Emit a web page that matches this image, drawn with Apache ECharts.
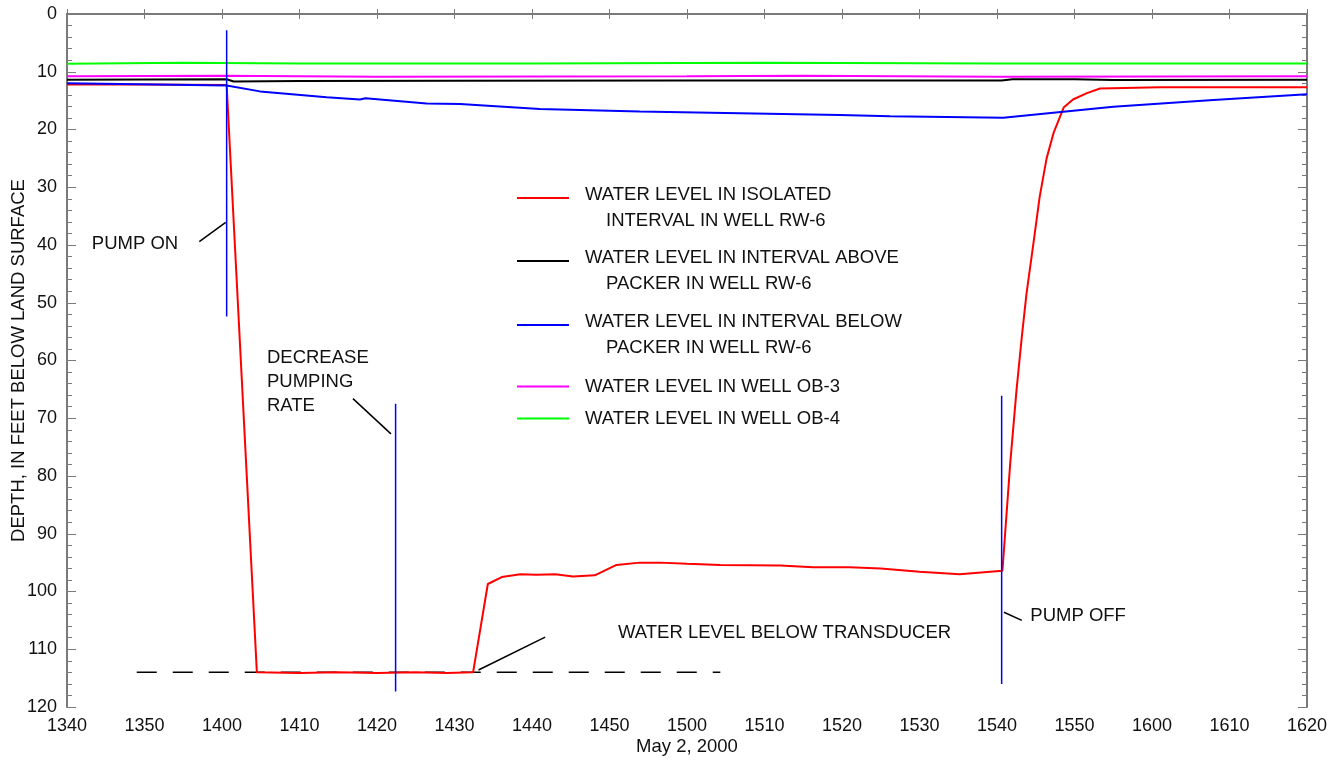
<!DOCTYPE html>
<html>
<head>
<meta charset="utf-8">
<script src="https://cdn.jsdelivr.net/npm/echarts@6/dist/echarts.min.js"></script>
<style>
html,body{margin:0;padding:0;background:#fff;}
#chart{width:1341px;height:761px;}
</style>
</head>
<body>
<div id="chart"></div>
<script>
// Time is in minutes after midnight on May 2, 2000 (820 = 13:40, 980 = 16:20)
const xTickRange = [820, 980];
const yTickRange = [0, 120];

const seriesNames = [
  'WATER LEVEL IN ISOLATED\nINTERVAL IN WELL RW-6',
  'WATER LEVEL IN INTERVAL ABOVE\nPACKER IN WELL RW-6',
  'WATER LEVEL IN INTERVAL BELOW\nPACKER IN WELL RW-6',
  'WATER LEVEL IN WELL OB-3',
  'WATER LEVEL IN WELL OB-4'
];
const seriesColors = ['#ff0000', '#000000', '#0000ff', '#ff00ff', '#00ff00'];

const isolatedRW6 = [
  [820,12.2],[830,12.2],[840.6,12.3],[844.5,114.0],[850,114.1],[855,114.0],[860,114.1],
  [865,114.0],[869,114.1],[872.4,114.0],[874.3,98.7],[876.1,97.5],[878.5,97.0],[880.6,97.1],
  [883,97.0],[885.3,97.4],[888.1,97.2],[890.9,95.4],[893.9,95.0],[896.5,95.0],[900,95.2],
  [904.3,95.4],[912,95.5],[916.3,95.8],[921,95.8],[925,96.0],[930,96.6],[935.2,97.0],
  [940.7,96.4],[941.7,77.9],[942.5,65.4],[943.2,55.9],[943.8,48.5],[944.7,39.7],[945.5,31.7],
  [946.4,25.0],[947.3,20.6],[948.6,16.2],[949.8,14.8],[951.6,13.7],[953.3,12.9],[961,12.7],[980,12.7]
];
const abovePackerRW6 = [
  [820,11.4],[830,11.35],[840.6,11.3],[841.5,11.7],[850,11.6],[870,11.55],[900,11.5],
  [940.6,11.5],[942,11.3],[950,11.3],[955,11.45],[980,11.4]
];
const belowPackerRW6 = [
  [820,12.0],[840.6,12.4],[844.9,13.4],[853.5,14.4],[857.8,14.8],[858.5,14.6],[866.4,15.5],
  [870.7,15.6],[881.0,16.45],[893.9,16.9],[906.8,17.2],[919.7,17.5],[926.2,17.7],
  [940.8,17.95],[955.0,16.05],[967.9,14.9],[980,13.9]
];
const wellOB3 = [
  [820,10.8],[840,10.7],[860,10.85],[900,10.8],[915,10.7],[940,10.85],[980,10.8]
];
const wellOB4 = [
  [820,8.6],[835,8.45],[850,8.55],[880,8.55],[910,8.45],[940,8.55],[980,8.55]
];

// Annotation marks
const pumpOnLine = [[840.6,2.8],[840.6,52.4]];
const decreaseLine = [[862.4,67.5],[862.4,117.3]];
const pumpOffLine = [[940.6,66.1],[940.6,116.0]];
const pumpOnLeader = [[837.07,39.4],[840.48,36.1]];
const decreaseLeader = [[856.9,66.6],[861.8,72.7]];
const pumpOffLeader = [[940.9,103.6],[943.2,105.0]];
const transducerLeader = [[873.1,113.6],[881.7,107.9]];
const transducerLevel = [[829.0,114.0],[904.3,114.0]];

const noteTexts = ['PUMP ON', 'DECREASE\nPUMPING\nRATE', 'PUMP OFF', 'WATER LEVEL BELOW TRANSDUCER'];
const notePoints = [[823.2,39.8],[845.8,63.7],[944.3,104.2],[891.1,107.2]];

function hhmm(v){
  const h = Math.floor(v/60), m = Math.round(v - h*60);
  return String(h*100 + m);
}

const FONT = "'Liberation Sans', Arial, sans-serif";
const AXIS_COLOR = '#7a7a7a';
const TEXT_COLOR = '#111111';
const FS = 18.5;

const chart = echarts.init(document.getElementById('chart'), null, {renderer:'canvas'});

const dataSeries = [isolatedRW6, abovePackerRW6, belowPackerRW6, wellOB3, wellOB4].map((d, i) => ({
  name: seriesNames[i],
  type: 'line',
  data: d,
  symbol: 'none',
  silent: true,
  z: 3,
  itemStyle: {color: seriesColors[i]},
  lineStyle: {color: seriesColors[i], width: 2},
  animation: false
}));

function annoLine(data, color, width, type){
  return {
    type: 'line', data: data, symbol: 'none', silent: true, z: 4,
    lineStyle: {color: color, width: width, type: type || 'solid'},
    animation: false
  };
}

const annoSeries = [
  annoLine(pumpOnLine, '#0000ff', 1.5),
  annoLine(decreaseLine, '#0000ff', 1.5),
  annoLine(pumpOffLine, '#0000ff', 1.5),
  annoLine(pumpOnLeader, '#000', 1.5),
  annoLine(decreaseLeader, '#000', 1.5),
  annoLine(pumpOffLeader, '#000', 1.5),
  annoLine(transducerLeader, '#000', 1.5),
  Object.assign(annoLine(transducerLevel, '#000', 1.5, [20,16]), {z: 2})
];

const textSeries = {
  type: 'scatter',
  symbolSize: 0,
  silent: true,
  itemStyle: {color: '#000', opacity: 1},
  data: notePoints.map((p, i) => ({value: p, text: noteTexts[i]})),
  label: {
    show: true,
    position: 'right',
    distance: 0,
    align: 'left',
    verticalAlign: 'middle',
    formatter: (p) => p.data.text,
    fontFamily: FONT,
    fontSize: FS,
    lineHeight: 24,
    color: TEXT_COLOR,
    opacity: 1,
    textBorderWidth: 0
  },
  animation: false
};

// Legends: one per series for precise placement
const legendTops = [167, 230, 294, 377, 409];
const legends = seriesNames.map((n, i) => {
  const parts = n.split('\n');
  const fmt = parts.length > 1 ? ('{s| }\n{a|' + parts[0] + '}\n{b|' + parts[1] + '}') : ('{a|' + parts[0] + '}');
  return {
    data: [n],
    left: 517,
    top: legendTops[i],
    orient: 'vertical',
    icon: 'rect',
    itemWidth: 52,
    itemHeight: 2,
    padding: 0,
    selectedMode: false,
    formatter: () => fmt,
    textStyle: {
      fontFamily: FONT, fontSize: FS, color: TEXT_COLOR,
      rich: {
        s: {lineHeight: 20, fontSize: 10},
        a: {fontFamily: FONT, fontSize: FS, color: TEXT_COLOR, lineHeight: 26, padding: [0,0,0,11]},
        b: {fontFamily: FONT, fontSize: FS, color: TEXT_COLOR, lineHeight: 26, padding: [0,0,0,32]}
      }
    }
  };
});

const option = {
  backgroundColor: '#fff',
  animation: false,
  grid: {left: 67, right: 34, top: 14, bottom: 54, containLabel: false, outerBoundsMode: 'none'},
  legend: legends,
  xAxis: [
    {
      type: 'value', position: 'bottom',
      min: xTickRange[0], max: xTickRange[1], interval: 10,
      name: 'May 2, 2000', nameLocation: 'middle', nameGap: 30, nameMoveOverlap: false,
      nameTextStyle: {fontFamily: FONT, fontSize: FS, color: TEXT_COLOR},
      axisLine: {show: true, lineStyle: {color: AXIS_COLOR, width: 2}},
      axisTick: {show: true, inside: true, length: 5, lineStyle: {color: AXIS_COLOR, width: 1}},
      axisLabel: {formatter: hhmm, fontFamily: FONT, fontSize: 18, color: TEXT_COLOR, margin: 10},
      splitLine: {show: false}
    },
    {
      type: 'value', position: 'top',
      min: xTickRange[0], max: xTickRange[1], interval: 10,
      axisLine: {show: true, lineStyle: {color: AXIS_COLOR, width: 2}},
      axisTick: {show: true, inside: true, length: 5, lineStyle: {color: AXIS_COLOR, width: 1}},
      axisLabel: {show: false},
      splitLine: {show: false}
    }
  ],
  yAxis: [
    {
      type: 'value', position: 'left', inverse: true,
      min: yTickRange[0], max: yTickRange[1], interval: 10,
      name: 'DEPTH, IN FEET BELOW LAND SURFACE', nameLocation: 'middle', nameGap: 39, nameMoveOverlap: false,
      nameTextStyle: {fontFamily: FONT, fontSize: FS, color: TEXT_COLOR},
      axisLine: {show: true, lineStyle: {color: AXIS_COLOR, width: 2}},
      axisTick: {show: true, inside: true, length: 9, lineStyle: {color: AXIS_COLOR, width: 1}},
      minorTick: {show: true, splitNumber: 5, length: 5, lineStyle: {color: AXIS_COLOR, width: 1}},
      axisLabel: {fontFamily: FONT, fontSize: 18, color: TEXT_COLOR, margin: 10},
      splitLine: {show: false}
    },
    {
      type: 'value', position: 'right', inverse: true,
      min: yTickRange[0], max: yTickRange[1], interval: 10,
      axisLine: {show: true, lineStyle: {color: AXIS_COLOR, width: 2}},
      axisTick: {show: true, inside: true, length: 9, lineStyle: {color: AXIS_COLOR, width: 1}},
      minorTick: {show: true, splitNumber: 5, length: 5, lineStyle: {color: AXIS_COLOR, width: 1}},
      axisLabel: {show: false},
      splitLine: {show: false}
    }
  ],
  series: dataSeries.concat(annoSeries, [textSeries])
};

chart.setOption(option);
</script>
</body>
</html>
